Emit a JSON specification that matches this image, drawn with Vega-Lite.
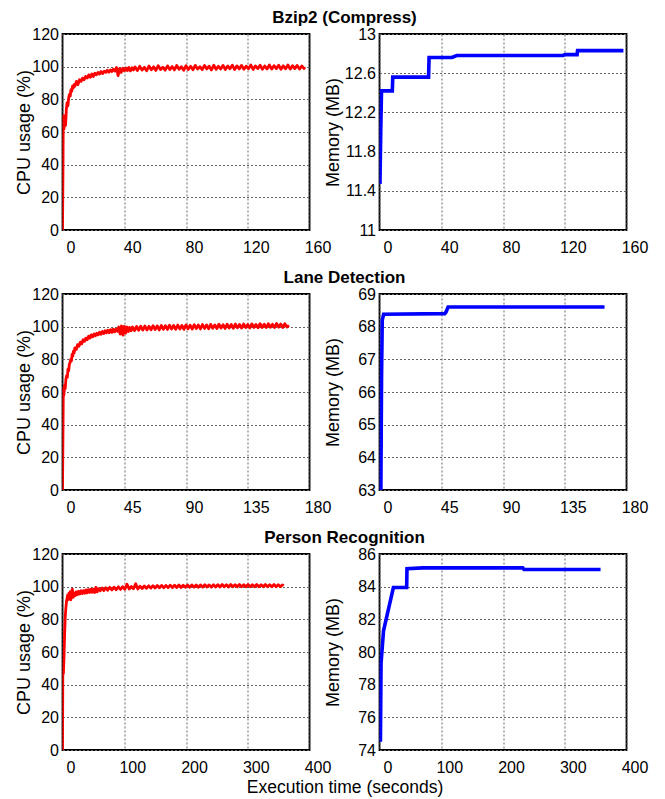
{
  "$schema": "https://vega.github.io/schema/vega-lite/v6.json",
  "background": "white",
  "padding": {"left": 14.5, "top": 8, "right": 5, "bottom": 5},
  "autosize": {"type": "pad"},
  "bounds": "flush",
  "columns": 2,
  "spacing": {"row": 64, "column": 70},
  "datasets": {
    "bzip_cpu": [
      {"t":0,"v":0},{"t":0.3,"v":35},{"t":0.5,"v":70},{"t":1,"v":62},{"t":1.5,"v":70},{"t":2,"v":64},{"t":2.5,"v":74},{"t":3,"v":78},{"t":3.5,"v":76},{"t":4,"v":81},{"t":4.5,"v":83},{"t":5,"v":82},{"t":5.5,"v":86},{"t":6,"v":85},{"t":6.5,"v":88},{"t":7,"v":87},{"t":7.5,"v":89},{"t":8,"v":88},{"t":9,"v":91},{"t":10,"v":89},{"t":11,"v":92},{"t":12,"v":91},{"t":13,"v":93},{"t":14,"v":92},{"t":15,"v":94},{"t":16,"v":93},{"t":17,"v":95},{"t":18,"v":93.5},{"t":19,"v":95.5},{"t":20,"v":94},{"t":21,"v":96},{"t":22,"v":95},{"t":23,"v":96.5},{"t":24,"v":95.5},{"t":25,"v":97},{"t":26,"v":95.8},{"t":27,"v":97.2},{"t":28,"v":96.5},{"t":29,"v":97.8},{"t":30,"v":96.6},{"t":31,"v":98},{"t":32,"v":97},{"t":33,"v":98.5},{"t":34,"v":97.3},{"t":35,"v":99.5},{"t":36,"v":94.5},{"t":37,"v":98.8},{"t":38,"v":96.5},{"t":39,"v":99},{"t":40,"v":97.5},{"t":41,"v":99.2},{"t":42,"v":97.6},{"t":43,"v":99.5},{"t":44,"v":97.4},{"t":45,"v":99.3},{"t":46,"v":98},
      {"t":47,"v":99.8},{"t":48.5,"v":97.6},{"t":50,"v":100.2},{"t":51.5,"v":97.9},{"t":53,"v":99.6},{"t":54.5,"v":97.5},{"t":56,"v":100.4},{"t":57.5,"v":98.1},{"t":59,"v":99.9},{"t":60.5,"v":97.7},{"t":62,"v":100.6},{"t":63.5,"v":98.3},{"t":65,"v":99.7},{"t":66.5,"v":97.9},{"t":68,"v":100.5},{"t":69.5,"v":98.2},{"t":71,"v":100.1},{"t":72.5,"v":98},{"t":74,"v":100.7},{"t":75.5,"v":98.4},{"t":77,"v":99.9},{"t":78.5,"v":97.8},{"t":80,"v":100.6},{"t":81.5,"v":98.3},{"t":83,"v":100.2},{"t":84.5,"v":98.1},{"t":86,"v":100.8},{"t":87.5,"v":98.5},{"t":89,"v":100},{"t":90.5,"v":98.2},{"t":92,"v":100.7},{"t":93.5,"v":98.6},{"t":95,"v":100.3},{"t":96.5,"v":98},{"t":98,"v":100.9},{"t":99.5,"v":98.4},{"t":101,"v":100.2},{"t":102.5,"v":98.6},{"t":104,"v":100.8},{"t":105.5,"v":98.3},{"t":107,"v":100.4},{"t":108.5,"v":98.7},{"t":110,"v":100.9},{"t":111.5,"v":98.2},{"t":113,"v":100.5},{"t":114.5,"v":98.6},{"t":116,"v":100.8},{"t":117.5,"v":98.4},{"t":119,"v":100.3},{"t":120.5,"v":98.7},{"t":122,"v":101},{"t":123.5,"v":98.3},{"t":125,"v":100.5},{"t":126.5,"v":98.8},{"t":128,"v":100.9},{"t":129.5,"v":98.4},{"t":131,"v":100.4},{"t":132.5,"v":98.6},{"t":134,"v":101},{"t":135.5,"v":98.5},{"t":137,"v":100.6},{"t":138.5,"v":98.8},{"t":140,"v":100.9},{"t":141.5,"v":98.4},{"t":143,"v":100.5},{"t":144.5,"v":98.7},{"t":146,"v":101},{"t":147.5,"v":98.5},{"t":149,"v":100.6},{"t":150.5,"v":98.8},{"t":152,"v":100.8},{"t":153.5,"v":98.5},{"t":155,"v":100.4},{"t":156.5,"v":98.9},{"t":157,"v":99.8}
    ],
    "bzip_mem": [
      {"t":0.3,"v":11.47},{"t":0.8,"v":12.0},{"t":1.3,"v":12.42},{"t":8.3,"v":12.42},{"t":8.6,"v":12.56},{"t":31.8,"v":12.56},{"t":32.1,"v":12.76},{"t":47,"v":12.76},{"t":50,"v":12.78},{"t":119,"v":12.78},{"t":120,"v":12.79},{"t":128,"v":12.79},{"t":128.3,"v":12.83},{"t":158,"v":12.83}
    ],
    "lane_cpu": [
      {"t":0,"v":0},{"t":0.3,"v":30},{"t":0.6,"v":62},{"t":1,"v":58},{"t":1.5,"v":64},{"t":2,"v":62},{"t":2.5,"v":68},{"t":3,"v":70},{"t":3.5,"v":69},{"t":4,"v":74},{"t":4.5,"v":73},{"t":5,"v":77},{"t":5.5,"v":78},{"t":6,"v":80},{"t":6.5,"v":79},{"t":7,"v":83},{"t":7.5,"v":82},{"t":8,"v":85},{"t":8.5,"v":84},{"t":9,"v":87},{"t":10,"v":86},{"t":11,"v":89},{"t":12,"v":88},{"t":13,"v":90.5},{"t":14,"v":89.5},{"t":15,"v":92},{"t":16,"v":91},{"t":17,"v":93},{"t":18,"v":92},{"t":19,"v":94.2},{"t":20,"v":93},{"t":21,"v":95},{"t":22,"v":93.8},{"t":23,"v":95.5},{"t":24,"v":94.4},{"t":25,"v":96},{"t":26,"v":95},{"t":27,"v":96.6},{"t":28,"v":95.3},{"t":29,"v":97},{"t":30,"v":95.8},{"t":31,"v":97.5},{"t":32,"v":96.2},{"t":33,"v":97.8},{"t":34,"v":96.3},{"t":35,"v":98.2},{"t":36,"v":96.5},{"t":37,"v":98.5},{"t":38,"v":96.8},{"t":39,"v":98.4},{"t":40,"v":97.2},{"t":41,"v":99.8},{"t":42,"v":95.5},{"t":43,"v":100.5},{"t":44,"v":94.8},{"t":45,"v":100.2},{"t":46,"v":96},{"t":47,"v":99.8},{"t":48,"v":97},{"t":49,"v":99.5},{"t":50,"v":97.5},{"t":51,"v":99.8},
      {"t":52.5,"v":97.6},{"t":54,"v":100.1},{"t":55.5,"v":97.8},{"t":57,"v":100.3},{"t":58.5,"v":97.9},{"t":60,"v":100.4},{"t":61.5,"v":98},{"t":63,"v":100.2},{"t":64.5,"v":98.1},{"t":66,"v":100.6},{"t":67.5,"v":98.2},{"t":69,"v":100.5},{"t":70.5,"v":98},{"t":72,"v":100.7},{"t":73.5,"v":98.4},{"t":75,"v":100.6},{"t":76.5,"v":98.3},{"t":78,"v":100.9},{"t":79.5,"v":98.5},{"t":81,"v":100.7},{"t":82.5,"v":98.4},{"t":84,"v":101},{"t":85.5,"v":98.6},{"t":87,"v":100.8},{"t":88.5,"v":98.3},{"t":90,"v":101.1},{"t":91.5,"v":98.7},{"t":93,"v":100.9},{"t":94.5,"v":98.5},{"t":96,"v":101.2},{"t":97.5,"v":98.8},{"t":99,"v":101},{"t":100.5,"v":98.6},{"t":102,"v":101.3},{"t":103.5,"v":98.9},{"t":105,"v":101.1},{"t":106.5,"v":98.7},{"t":108,"v":101.4},{"t":109.5,"v":99},{"t":111,"v":101.1},{"t":112.5,"v":98.8},{"t":114,"v":101.5},{"t":115.5,"v":99.1},{"t":117,"v":101.2},{"t":118.5,"v":98.9},{"t":120,"v":101.5},{"t":121.5,"v":99.2},{"t":123,"v":101.3},{"t":124.5,"v":99},{"t":126,"v":101.6},{"t":127.5,"v":99.3},{"t":129,"v":101.4},{"t":130.5,"v":99.1},{"t":132,"v":101.6},{"t":133.5,"v":99.4},{"t":135,"v":101.3},{"t":136.5,"v":99.2},{"t":138,"v":101.7},{"t":139.5,"v":99.5},{"t":141,"v":101.4},{"t":142.5,"v":99.3},{"t":144,"v":101.8},{"t":145.5,"v":99.5},{"t":147,"v":101.5},{"t":148.5,"v":99.4},{"t":150,"v":101.8},{"t":151.5,"v":99.6},{"t":153,"v":101.5},{"t":154.5,"v":99.4},{"t":156,"v":101.9},{"t":157.5,"v":99.7},{"t":159,"v":101.6},{"t":160.5,"v":99.5},{"t":162,"v":101.8},{"t":163.5,"v":99.8},{"t":165,"v":100.8}
    ],
    "lane_mem": [
      {"t":1,"v":63},{"t":1.5,"v":66.5},{"t":2,"v":68.2},{"t":3,"v":68.38},{"t":47.5,"v":68.4},{"t":48.5,"v":68.45},{"t":50,"v":68.6},{"t":164,"v":68.6}
    ],
    "person_cpu": [
      {"t":0,"v":0},{"t":0.5,"v":46},{"t":1.5,"v":47},{"t":2.5,"v":58},{"t":3.5,"v":72},{"t":4.5,"v":82},{"t":5.5,"v":87},{"t":6.5,"v":91},{"t":7.5,"v":93},{"t":8.5,"v":95},{"t":9.5,"v":92},{"t":10.5,"v":96},{"t":11.5,"v":94},{"t":12.5,"v":97},{"t":13.5,"v":92},{"t":14.5,"v":96},{"t":16,"v":98.5},{"t":17.5,"v":93.5},{"t":19,"v":96},{"t":20.5,"v":94.5},{"t":22,"v":96.8},{"t":24,"v":95},{"t":26,"v":97.2},{"t":28,"v":95.5},{"t":30,"v":97.5},{"t":32,"v":95.8},{"t":34,"v":97.6},{"t":36,"v":96},{"t":38,"v":98},{"t":40,"v":96.2},{"t":42,"v":98.2},{"t":44,"v":96.5},{"t":46,"v":98.5},{"t":48,"v":96.6},{"t":50,"v":98.4},{"t":52,"v":96.4},{"t":54,"v":99.5},{"t":56,"v":96.8},{"t":58,"v":98.8},{"t":61,"v":97.5},{"t":64,"v":99.2},{"t":67,"v":97.6},{"t":70,"v":99.3},{"t":73,"v":97.8},
      {"t":76.5,"v":99.6},{"t":80,"v":98},{"t":83.5,"v":99.7},{"t":87,"v":98.1},{"t":90.5,"v":99.9},{"t":94,"v":98.3},{"t":97.5,"v":100},{"t":101,"v":98.4},{"t":104.5,"v":101.5},{"t":108,"v":98.6},{"t":111.5,"v":100.1},{"t":115,"v":98.7},{"t":118.5,"v":101.8},{"t":122,"v":98.6},{"t":125.5,"v":100.3},{"t":129,"v":98.9},{"t":132.5,"v":100.4},{"t":136,"v":99},{"t":139.5,"v":100.5},{"t":143,"v":99.1},{"t":146.5,"v":100.6},{"t":150,"v":99.2},{"t":153.5,"v":100.7},{"t":157,"v":99.3},{"t":160.5,"v":100.8},{"t":164,"v":99.3},{"t":167.5,"v":100.8},{"t":171,"v":99.4},{"t":174.5,"v":100.9},{"t":178,"v":99.4},{"t":181.5,"v":100.9},{"t":185,"v":99.5},{"t":188.5,"v":101},{"t":192,"v":99.5},{"t":195.5,"v":100.9},{"t":199,"v":99.6},{"t":202.5,"v":101},{"t":206,"v":99.6},{"t":209.5,"v":101.1},{"t":213,"v":99.7},{"t":216.5,"v":101},{"t":220,"v":99.6},{"t":223.5,"v":101.1},{"t":227,"v":99.7},{"t":230.5,"v":101.2},{"t":234,"v":99.8},{"t":237.5,"v":101.1},{"t":241,"v":99.7},{"t":244.5,"v":101.2},{"t":248,"v":99.8},{"t":251.5,"v":101.2},{"t":255,"v":99.8},{"t":258.5,"v":101.3},{"t":262,"v":99.9},{"t":265.5,"v":101.2},{"t":269,"v":99.8},{"t":272.5,"v":101.3},{"t":276,"v":99.9},{"t":279.5,"v":101.2},{"t":283,"v":99.9},{"t":286.5,"v":101.3},{"t":290,"v":100},{"t":293.5,"v":101.2},{"t":297,"v":99.9},{"t":300.5,"v":101.3},{"t":304,"v":100},{"t":307.5,"v":101.2},{"t":311,"v":99.9},{"t":314.5,"v":101.3},{"t":318,"v":100},{"t":321.5,"v":101.2},{"t":325,"v":99.9},{"t":328.5,"v":101.3},{"t":332,"v":100},{"t":335.5,"v":101.2},{"t":339,"v":99.9},{"t":342.5,"v":101.3},{"t":346,"v":100},{"t":349.5,"v":101.2},{"t":353,"v":100},{"t":356.5,"v":101.1},{"t":358,"v":100.5}
    ],
    "person_mem": [
      {"t":1.5,"v":74.5},{"t":2.5,"v":79.3},{"t":6.5,"v":81.3},{"t":22.5,"v":83.95},{"t":44,"v":83.95},{"t":44.5,"v":85.1},{"t":70,"v":85.15},{"t":232,"v":85.15},{"t":234,"v":85.05},{"t":358,"v":85.05}
    ]
  },
  "concat": [
    {
      "width": 247, "height": 196,
      "title": {"text": "Bzip2 (Compress)", "anchor": "start", "frame": "group", "align": "center", "dx": 282, "offset": -14, "baseline": "alphabetic"},
      "data": {"name": "bzip_cpu"},
      "encoding": {
        "y": {"field": "v", "type": "quantitative", "scale": {"domain": [0, 120], "nice": false}, "axis": {"values": [0, 20, 40, 60, 80, 100, 120], "title": "CPU usage (%)", "titleX": -38, "titleY": 98, "titleAngle": -90, "titleAlign": "center", "titleBaseline": "middle"}}
      },
      "layer": [
        {"mark": {"type": "line", "color": "#ff0000", "strokeWidth": 2.8, "strokeJoin": "round", "clip": true},
         "encoding": {"x": {"field": "t", "type": "quantitative", "scale": {"domain": [0, 160], "nice": false, "zero": false}, "axis": {"values": [0, 40, 80, 120, 160], "orient": "bottom", "grid": true, "labels": false, "title": null}}}},
        {"mark": {"type": "line", "opacity": 0},
         "encoding": {"x": {"field": "t", "type": "quantitative", "scale": {"domain": [0, 160], "nice": false, "zero": false}, "axis": {"values": [0, 40, 80, 120, 160], "orient": "bottom", "grid": false, "labels": true, "labelOffset": 8, "title": null}}}}
      ],
      "resolve": {"axis": {"x": "independent"}}
    },
    {
      "width": 247, "height": 196,
      "data": {"name": "bzip_mem"},
      "encoding": {
        "y": {"field": "v", "type": "quantitative", "scale": {"domain": [11, 13], "nice": false, "zero": false}, "axis": {"values": [11, 11.4, 11.8, 12.2, 12.6, 13], "format": "~g", "title": "Memory (MB)", "titleX": -46.5, "titleY": 98, "titleAngle": -90, "titleAlign": "center", "titleBaseline": "middle"}}
      },
      "layer": [
        {"mark": {"type": "line", "color": "#0000ff", "strokeWidth": 3.6, "strokeJoin": "miter", "clip": true},
         "encoding": {"x": {"field": "t", "type": "quantitative", "scale": {"domain": [0, 160], "nice": false, "zero": false}, "axis": {"values": [0, 40, 80, 120, 160], "orient": "bottom", "grid": true, "labels": false, "title": null}}}},
        {"mark": {"type": "line", "opacity": 0},
         "encoding": {"x": {"field": "t", "type": "quantitative", "scale": {"domain": [0, 160], "nice": false, "zero": false}, "axis": {"values": [0, 40, 80, 120, 160], "orient": "bottom", "grid": false, "labels": true, "labelOffset": 8, "title": null}}}}
      ],
      "resolve": {"axis": {"x": "independent"}}
    },
    {
      "width": 247, "height": 196,
      "title": {"text": "Lane Detection", "anchor": "start", "frame": "group", "align": "center", "dx": 282, "offset": -14, "baseline": "alphabetic"},
      "data": {"name": "lane_cpu"},
      "encoding": {
        "y": {"field": "v", "type": "quantitative", "scale": {"domain": [0, 120], "nice": false}, "axis": {"values": [0, 20, 40, 60, 80, 100, 120], "title": "CPU usage (%)", "titleX": -38, "titleY": 98, "titleAngle": -90, "titleAlign": "center", "titleBaseline": "middle"}}
      },
      "layer": [
        {"mark": {"type": "line", "color": "#ff0000", "strokeWidth": 2.8, "strokeJoin": "round", "clip": true},
         "encoding": {"x": {"field": "t", "type": "quantitative", "scale": {"domain": [0, 180], "nice": false, "zero": false}, "axis": {"values": [0, 45, 90, 135, 180], "orient": "bottom", "grid": true, "labels": false, "title": null}}}},
        {"mark": {"type": "line", "opacity": 0},
         "encoding": {"x": {"field": "t", "type": "quantitative", "scale": {"domain": [0, 180], "nice": false, "zero": false}, "axis": {"values": [0, 45, 90, 135, 180], "orient": "bottom", "grid": false, "labels": true, "labelOffset": 8, "title": null}}}}
      ],
      "resolve": {"axis": {"x": "independent"}}
    },
    {
      "width": 247, "height": 196,
      "data": {"name": "lane_mem"},
      "encoding": {
        "y": {"field": "v", "type": "quantitative", "scale": {"domain": [63, 69], "nice": false, "zero": false}, "axis": {"values": [63, 64, 65, 66, 67, 68, 69], "title": "Memory (MB)", "titleX": -46.5, "titleY": 98, "titleAngle": -90, "titleAlign": "center", "titleBaseline": "middle"}}
      },
      "layer": [
        {"mark": {"type": "line", "color": "#0000ff", "strokeWidth": 3.6, "strokeJoin": "miter", "clip": true},
         "encoding": {"x": {"field": "t", "type": "quantitative", "scale": {"domain": [0, 180], "nice": false, "zero": false}, "axis": {"values": [0, 45, 90, 135, 180], "orient": "bottom", "grid": true, "labels": false, "title": null}}}},
        {"mark": {"type": "line", "opacity": 0},
         "encoding": {"x": {"field": "t", "type": "quantitative", "scale": {"domain": [0, 180], "nice": false, "zero": false}, "axis": {"values": [0, 45, 90, 135, 180], "orient": "bottom", "grid": false, "labels": true, "labelOffset": 8, "title": null}}}}
      ],
      "resolve": {"axis": {"x": "independent"}}
    },
    {
      "width": 247, "height": 196,
      "title": {"text": "Person Recognition", "anchor": "start", "frame": "group", "align": "center", "dx": 282, "offset": -14, "baseline": "alphabetic"},
      "data": {"name": "person_cpu"},
      "encoding": {
        "y": {"field": "v", "type": "quantitative", "scale": {"domain": [0, 120], "nice": false}, "axis": {"values": [0, 20, 40, 60, 80, 100, 120], "title": "CPU usage (%)", "titleX": -38, "titleY": 98, "titleAngle": -90, "titleAlign": "center", "titleBaseline": "middle"}}
      },
      "layer": [
        {"mark": {"type": "line", "color": "#ff0000", "strokeWidth": 2.8, "strokeJoin": "round", "clip": true},
         "encoding": {"x": {"field": "t", "type": "quantitative", "scale": {"domain": [0, 400], "nice": false, "zero": false}, "axis": {"values": [0, 100, 200, 300, 400], "orient": "bottom", "grid": true, "labels": false, "title": null}}}},
        {"mark": {"type": "line", "opacity": 0},
         "encoding": {"x": {"field": "t", "type": "quantitative", "scale": {"domain": [0, 400], "nice": false, "zero": false}, "axis": {"values": [0, 100, 200, 300, 400], "orient": "bottom", "grid": false, "labels": true, "labelOffset": 8, "title": "Execution time (seconds)", "titleX": 282, "titleY": 37, "titleAlign": "center", "titleBaseline": "middle", "titleFontSize": 17.5}}}}
      ],
      "resolve": {"axis": {"x": "independent"}}
    },
    {
      "width": 247, "height": 196,
      "data": {"name": "person_mem"},
      "encoding": {
        "y": {"field": "v", "type": "quantitative", "scale": {"domain": [74, 86], "nice": false, "zero": false}, "axis": {"values": [74, 76, 78, 80, 82, 84, 86], "title": "Memory (MB)", "titleX": -46.5, "titleY": 98, "titleAngle": -90, "titleAlign": "center", "titleBaseline": "middle"}}
      },
      "layer": [
        {"mark": {"type": "line", "color": "#0000ff", "strokeWidth": 3.6, "strokeJoin": "miter", "clip": true},
         "encoding": {"x": {"field": "t", "type": "quantitative", "scale": {"domain": [0, 400], "nice": false, "zero": false}, "axis": {"values": [0, 100, 200, 300, 400], "orient": "bottom", "grid": true, "labels": false, "title": null}}}},
        {"mark": {"type": "line", "opacity": 0},
         "encoding": {"x": {"field": "t", "type": "quantitative", "scale": {"domain": [0, 400], "nice": false, "zero": false}, "axis": {"values": [0, 100, 200, 300, 400], "orient": "bottom", "grid": false, "labels": true, "labelOffset": 8, "title": null}}}}
      ],
      "resolve": {"axis": {"x": "independent"}}
    }
  ],
  "config": {
    "font": "Liberation Sans",
    "view": {"stroke": "#000000", "strokeWidth": 1.8},
    "axis": {
      "domain": false, "ticks": false,
      "gridColor": "#666666", "gridDash": [2, 2], "gridWidth": 1,
      "labelFont": "Liberation Sans", "labelFontSize": 16, "labelColor": "#000000",
      "labelFlush": false, "labelOverlap": false, "labelBound": false,
      "titleFont": "Liberation Sans", "titleFontSize": 18, "titleFontWeight": "normal", "titleColor": "#000000"
    },
    "axisX": {"labelPadding": 9},
    "axisY": {"labelPadding": 4, "grid": true},
    "title": {"font": "Liberation Sans", "fontSize": 17, "fontWeight": "bold", "color": "#000000"}
  }
}
